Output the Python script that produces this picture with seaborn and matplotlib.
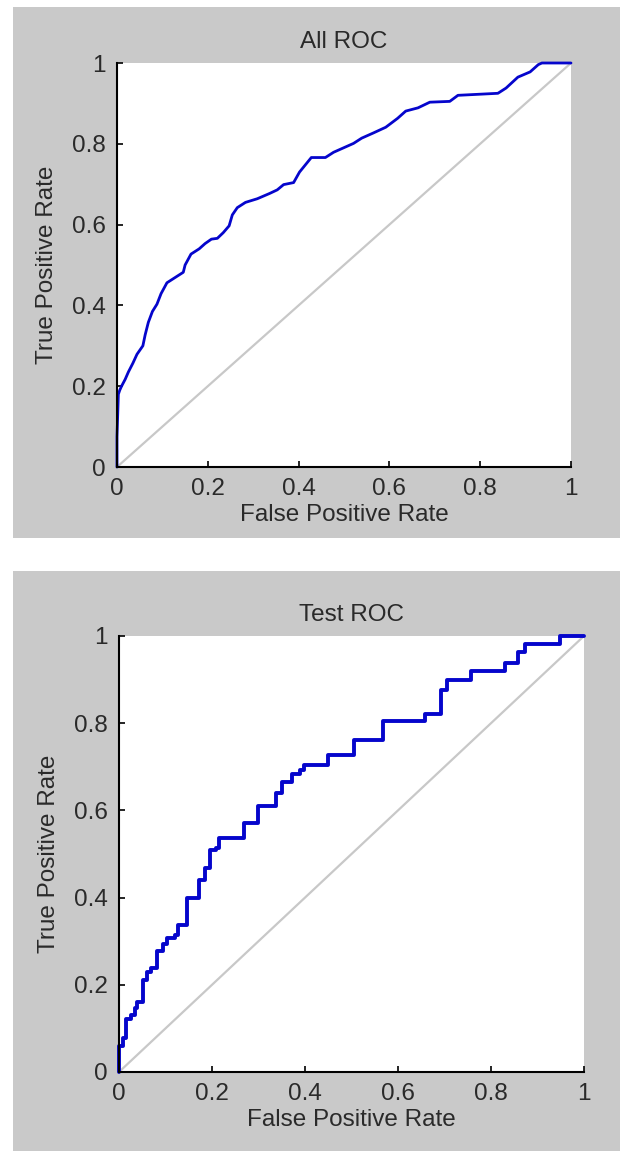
import matplotlib
matplotlib.use('Agg')
import matplotlib.pyplot as plt
import seaborn as sns
from matplotlib.patches import Rectangle

# ROC curve points
all_fpr = [0.0, 0.0, 0.003, 0.006, 0.010, 0.018, 0.025, 0.035, 0.044, 0.057, 0.062,
           0.069, 0.078, 0.088, 0.097, 0.110, 0.128, 0.146, 0.150, 0.163, 0.181,
           0.194, 0.208, 0.221, 0.234, 0.247, 0.254, 0.265, 0.283, 0.309, 0.336,
           0.353, 0.367, 0.389, 0.402, 0.415, 0.428, 0.459, 0.477, 0.495, 0.521,
           0.539, 0.565, 0.592, 0.618, 0.636, 0.663, 0.689, 0.733, 0.751, 0.804,
           0.839, 0.857, 0.883, 0.910, 0.928, 0.936, 1.0]
all_tpr = [0.0, 0.075, 0.18, 0.19, 0.20, 0.217, 0.235, 0.257, 0.279, 0.300, 0.327,
           0.358, 0.385, 0.403, 0.429, 0.456, 0.469, 0.482, 0.500, 0.527, 0.540,
           0.553, 0.564, 0.566, 0.580, 0.597, 0.624, 0.642, 0.655, 0.664, 0.677,
           0.686, 0.699, 0.704, 0.730, 0.748, 0.766, 0.766, 0.779, 0.788, 0.801,
           0.814, 0.827, 0.841, 0.863, 0.881, 0.889, 0.903, 0.905, 0.920, 0.923,
           0.925, 0.938, 0.965, 0.978, 0.996, 1.0, 1.0]

test_fpr = [0.0, 0.0, 0.009, 0.015, 0.026, 0.035, 0.039, 0.052, 0.061, 0.069, 0.082,
            0.095, 0.104, 0.121, 0.126, 0.147, 0.173, 0.186, 0.195, 0.208, 0.216,
            0.268, 0.299, 0.338, 0.351, 0.372, 0.390, 0.398, 0.450, 0.506, 0.567,
            0.658, 0.693, 0.706, 0.758, 0.831, 0.857, 0.874, 0.948, 1.0]
test_tpr = [0.0, 0.060, 0.078, 0.121, 0.130, 0.147, 0.160, 0.212, 0.229, 0.238, 0.277,
            0.294, 0.307, 0.315, 0.337, 0.398, 0.441, 0.467, 0.510, 0.514, 0.536,
            0.570, 0.609, 0.640, 0.666, 0.683, 0.692, 0.705, 0.726, 0.761, 0.804,
            0.821, 0.877, 0.899, 0.920, 0.938, 0.964, 0.981, 1.0, 1.0]

chance = [0, 1]
ticks = [0, 0.2, 0.4, 0.6, 0.8, 1]
tick_labels = ['0', '0.2', '0.4', '0.6', '0.8', '1']

sns.set_theme(style='white')
plt.rcParams['font.family'] = ['Liberation Sans', 'DejaVu Sans']

W, H = 629, 1151
fig = plt.figure(figsize=(W / 100, H / 100), dpi=100)
fig.patch.set_facecolor('white')

panel_bg = '#c9c9c9'
text_col = '#2a2a2a'
blue = '#0505cc'

# grey panels behind each plot
fig.patches.append(Rectangle((13 / W, 1 - 538 / H), 607 / W, 531 / H,
                             transform=fig.transFigure, facecolor=panel_bg,
                             edgecolor='none', zorder=-5))
fig.patches.append(Rectangle((13 / W, 0), 607 / W, 1 - 571 / H,
                             transform=fig.transFigure, facecolor=panel_bg,
                             edgecolor='none', zorder=-5))


def make_axes(l, t, r, b):
    return fig.add_axes([l / W, 1 - b / H, (r - l) / W, (b - t) / H])


ax1 = make_axes(117, 63, 571, 467)
ax2 = make_axes(119, 636, 584, 1072)

panels = [
    (ax1, all_fpr, all_tpr, 'All ROC', 2.0, None),
    (ax2, test_fpr, test_tpr, 'Test ROC', 2.8, 'steps-post'),
]

fs = 17.5
for ax, fpr, tpr, title, lw, ds in panels:
    ax.set_facecolor('white')
    sns.lineplot(x=chance, y=chance, ax=ax, color='#c8c8c8', linewidth=1.6)
    kw = {'drawstyle': ds} if ds else {}
    sns.lineplot(x=fpr, y=tpr, ax=ax, color=blue, linewidth=lw,
                 estimator=None, sort=False, clip_on=False, **kw)
    ax.set_xlim(0, 1)
    ax.set_ylim(0, 1)
    ax.set_xticks(ticks)
    ax.set_xticklabels(tick_labels)
    ax.set_yticks(ticks)
    ax.set_yticklabels(tick_labels)
    for s in ['top', 'right']:
        ax.spines[s].set_visible(False)
    for s in ['left', 'bottom']:
        ax.spines[s].set_color('black')
        ax.spines[s].set_linewidth(1.5)
    ax.tick_params(direction='in', length=4, width=1.2, color='black',
                   labelsize=fs, labelcolor=text_col, pad=8,
                   bottom=True, left=True)
    ax.set_title(title, fontsize=fs, color=text_col, pad=11)
    ax.set_xlabel('False Positive Rate', fontsize=fs, color=text_col, labelpad=3)
    ax.set_ylabel('True Positive Rate', fontsize=fs, color=text_col, labelpad=10)

fig.savefig('out.png', dpi=100, facecolor='white')
